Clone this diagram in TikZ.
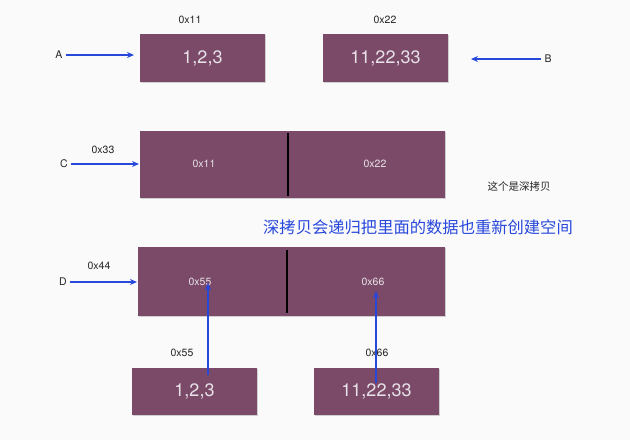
\documentclass[tikz,border=0pt]{standalone}
\usepackage{fontspec}
\setmainfont{TeX Gyre Heros}
\newfontfamily\cjk{Noto Sans CJK SC}
\usetikzlibrary{arrows.meta,shadows}
\definecolor{boxfill}{RGB}{122,74,104}
\definecolor{arrowblue}{RGB}{40,72,220}
\definecolor{boxtext}{RGB}{232,226,232}
\tikzset{
  membox/.style={fill=boxfill, draw=none, inner sep=0pt, drop shadow={shadow xshift=1pt, shadow yshift=-1pt, opacity=0.35}},
  bigtext/.style={text=boxtext, font=\fontsize{18}{20}\selectfont},
  smalltext/.style={text=boxtext, font=\fontsize{10.5}{12}\selectfont},
  lbl/.style={text=black!85, font=\fontsize{10.5}{12}\selectfont},
  ptr/.style={draw=arrowblue, line width=1.3pt, -{Stealth[length=7pt,width=6pt]}},
}
\begin{document}
\begin{tikzpicture}[x=1pt,y=-1pt]
\useasboundingbox[fill=white!98!black] (0,0) rectangle (630,440);
% top boxes
\node[membox, minimum width=125pt, minimum height=48pt] (boxA) at (202.5,58) {};
\node[bigtext] at (boxA.center) {1,2,3};
\node[lbl] (lA) at (190,20) {0x11};
\node[membox, minimum width=125pt, minimum height=48pt] (boxB) at (385.5,58) {};
\node[bigtext] at (boxB.center) {11,22,33};
\node[lbl] (lB) at (385,20) {0x22};
\node[lbl] (A) at (59,55) {A};
\node[lbl] (B) at (548,59) {B};
\coordinate (Aend) at (134,55);
\coordinate (Bend) at (471,59);
\draw[ptr] (A.east) -- (Aend);
\draw[ptr] (B.west) -- (Bend);
% C list
\node[membox, minimum width=305pt, minimum height=67pt] (boxC) at (292.5,164.5) {};
\draw[black, line width=1.2pt] (288,133) -- (288,196);
\node[smalltext] (c1) at (204,164) {0x11};
\node[smalltext] (c2) at (375,164) {0x22};
\node[lbl] (C) at (64,164) {C};
\node[lbl] (l33) at (103,150) {0x33};
\coordinate (Cend) at (139,164);
\draw[ptr] (C.east) -- (Cend);
\node[lbl, font=\cjk\fontsize{10.5}{12}\selectfont] (note) at (519,186) {这个是深拷贝};
\node[text=arrowblue, font=\cjk\fontsize{16.3}{18}\selectfont] (big) at (418,227) {深拷贝会递归把里面的数据也重新创建空间};
% D list
\node[membox, minimum width=307pt, minimum height=69pt] (boxD) at (291.5,281.5) {};
\draw[black, line width=1.2pt] (287,250) -- (287,313);
\node[smalltext] (d1) at (200,282) {0x55};
\node[smalltext] (d2) at (373,282) {0x66};
\node[lbl] (D) at (63,282) {D};
\node[lbl] (l44) at (99,266) {0x44};
\coordinate (Dend) at (137,282);
\draw[ptr] (D.east) -- (Dend);
% bottom boxes
\node[membox, minimum width=125pt, minimum height=47pt] (boxE) at (194.5,391.5) {};
\node[bigtext] at (boxE.center) {1,2,3};
\node[lbl] (l55) at (182,353) {0x55};
\node[membox, minimum width=125pt, minimum height=47pt] (boxF) at (376.5,391.5) {};
\node[bigtext] at (boxF.center) {11,22,33};
\node[lbl] (l66) at (377,353) {0x66};
\coordinate (e0) at (208,375);
\coordinate (e1) at (208,283);
\coordinate (f0) at (376,383);
\coordinate (f1) at (376,291);
\draw[ptr] (e0) -- (e1);
\draw[ptr] (f0) -- (f1);
\end{tikzpicture}
\end{document}
